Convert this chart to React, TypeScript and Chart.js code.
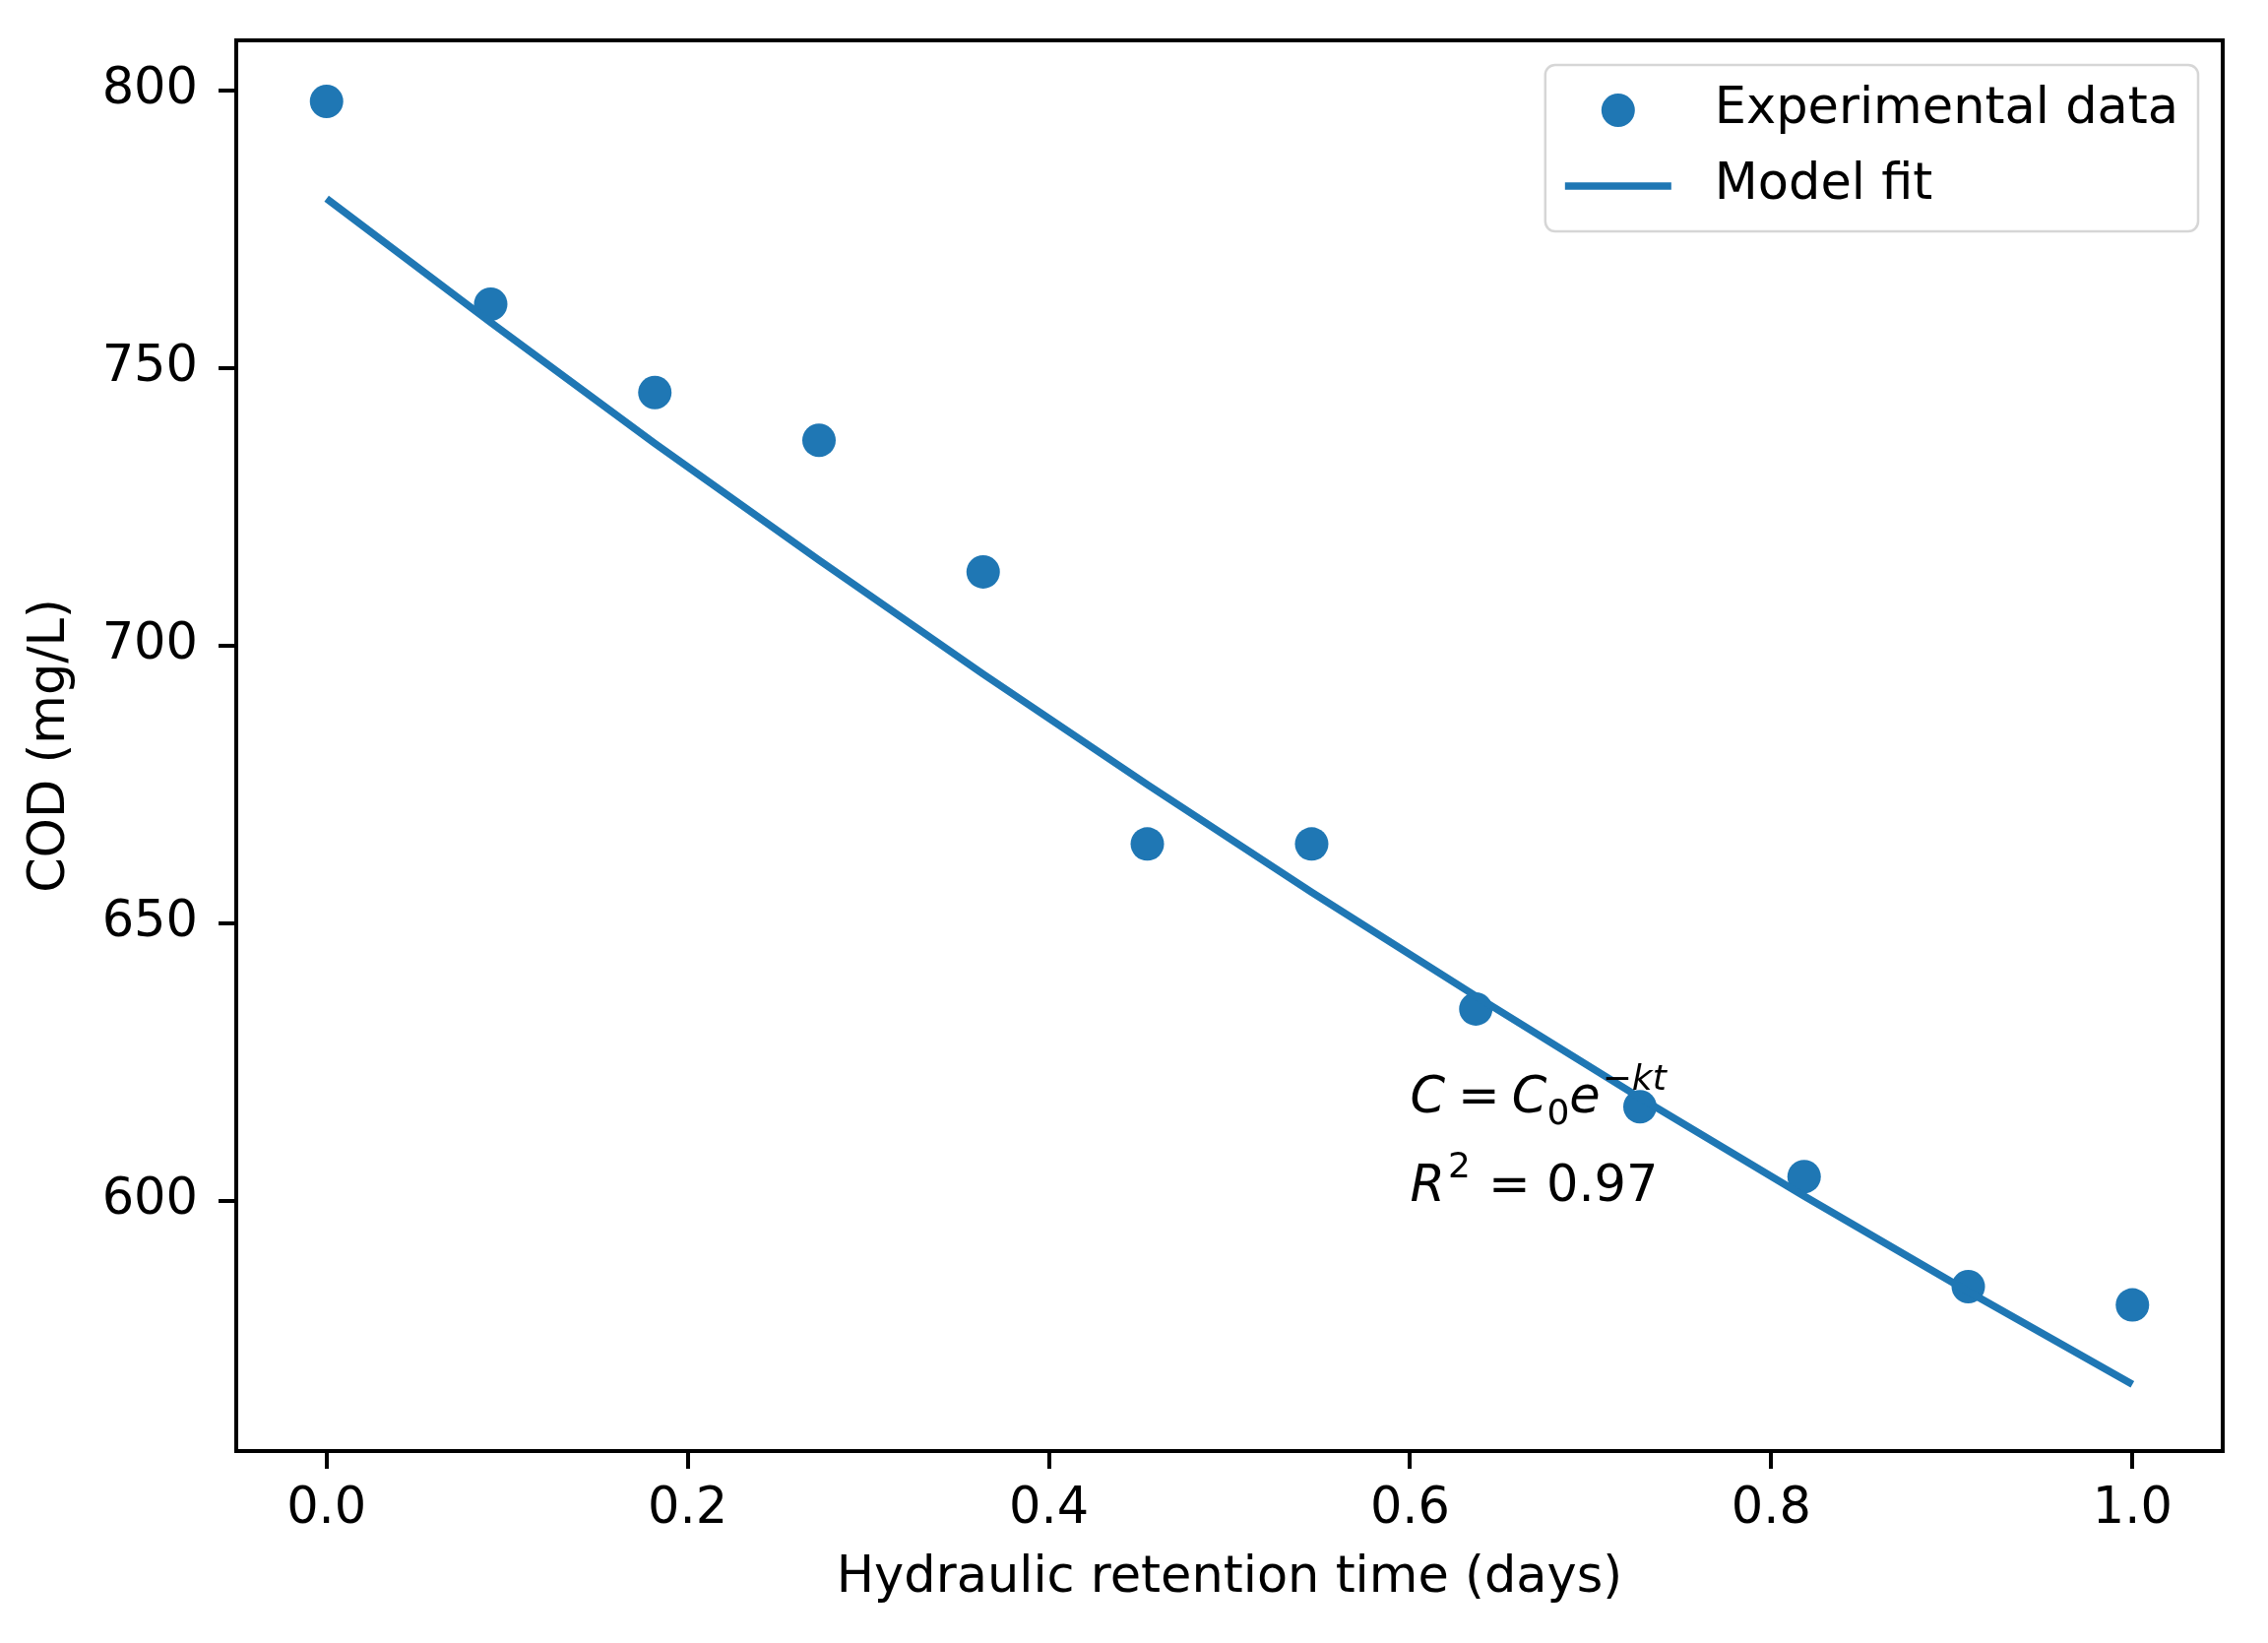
import React, { useEffect, useRef } from "react";
import { Chart, registerables } from "chart.js";

Chart.register(...registerables);

// ---- data ----
const hrtDays = [0, 0.0909, 0.1818, 0.2727, 0.3636, 0.4545, 0.5455, 0.6364, 0.7273, 0.8182, 0.9091, 1.0];
const codExperimental = [798, 761.5, 745.6, 737, 713.3, 664.3, 664.3, 634.6, 617, 604.4, 584.6, 581.3];
const codModel = [780.5, 758.2, 736.4, 715.4, 694.9, 675.0, 655.6, 636.9, 618.6, 600.9, 583.7, 567.0];
const xTicks = [0, 0.2, 0.4, 0.6, 0.8, 1.0];
const yTicks = [600, 650, 700, 750, 800];
const seriesLabels = ["Experimental data", "Model fit"];
const xTitle = "Hydraulic retention time (days)";
const yTitle = "COD (mg/L)";
const annotationAt = { x: 0.6, y: 600 };
const r2Text = " = 0.97";

const FAMILY = '"DejaVu Sans", "Liberation Sans", sans-serif';
const FS = 51;
const BLUE = "#1f77b4";

type Piece = { t: string; size?: number; italic?: boolean; dy?: number; gap?: number };

function drawPieces(ctx: CanvasRenderingContext2D, x: number, base: number, pieces: Piece[]) {
  let cx = x;
  for (const p of pieces) {
    const size = p.size ?? FS;
    ctx.font = `${p.italic ? "italic " : ""}${size}px ${FAMILY}`;
    cx += p.gap ?? 0;
    ctx.fillText(p.t, cx, base + (p.dy ?? 0));
    cx += ctx.measureText(p.t).width;
  }
}

const overlay = {
  id: "overlay",
  afterDatasetsDraw(chart: any) {
    const { ctx, chartArea: a, scales } = chart;
    ctx.save();
    // axes frame
    ctx.strokeStyle = "#000";
    ctx.lineWidth = 4;
    ctx.strokeRect(a.left, a.top, a.right - a.left, a.bottom - a.top);

    // annotation text
    ctx.fillStyle = "#000";
    ctx.textBaseline = "alphabetic";
    ctx.textAlign = "left";
    const ax = scales.x.getPixelForValue(annotationAt.x);
    const base2 = scales.y.getPixelForValue(annotationAt.y);
    const base1 = base2 - 90;
    const SS = Math.round(FS * 0.7);
    drawPieces(ctx, ax, base1, [
      { t: "C", italic: true },
      { t: "=", gap: 13 },
      { t: "C", italic: true, gap: 12 },
      { t: "0", size: SS, dy: 12 },
      { t: "e", italic: true },
      { t: "\u2212", size: SS, dy: -23, gap: 2 },
      { t: "kt", size: SS, italic: true, dy: -23 },
    ]);
    drawPieces(ctx, ax, base2, [
      { t: "R", italic: true },
      { t: "2", size: SS, dy: -24, gap: 3 },
      { t: r2Text, gap: 2 },
    ]);

    // legend
    ctx.font = `${FS}px ${FAMILY}`;
    const textW = Math.max(...seriesLabels.map((s) => ctx.measureText(s).width));
    const pad = 20, handle = 108, hpad = 44, rowH = 52, rowGap = 25;
    const w = pad + handle + hpad + textW + pad;
    const h = pad * 2 + rowH * 2 + rowGap;
    const right = a.right - 25;
    const top = a.top + 25;
    const left = right - w;
    const rad = 10;
    ctx.beginPath();
    ctx.moveTo(left + rad, top);
    ctx.lineTo(right - rad, top);
    ctx.arcTo(right, top, right, top + rad, rad);
    ctx.lineTo(right, top + h - rad);
    ctx.arcTo(right, top + h, right - rad, top + h, rad);
    ctx.lineTo(left + rad, top + h);
    ctx.arcTo(left, top + h, left, top + h - rad, rad);
    ctx.lineTo(left, top + rad);
    ctx.arcTo(left, top, left + rad, top, rad);
    ctx.closePath();
    ctx.fillStyle = "rgba(255,255,255,0.8)";
    ctx.fill();
    ctx.strokeStyle = "#d6d6d6";
    ctx.lineWidth = 2.5;
    ctx.stroke();

    const r1 = top + pad + rowH / 2;
    const r2 = r1 + rowH + rowGap;
    // marker
    ctx.fillStyle = BLUE;
    ctx.beginPath();
    ctx.arc(left + pad + handle / 2, r1, 17, 0, Math.PI * 2);
    ctx.fill();
    // line
    ctx.strokeStyle = BLUE;
    ctx.lineWidth = 7.5;
    ctx.beginPath();
    ctx.moveTo(left + pad, r2);
    ctx.lineTo(left + pad + handle, r2);
    ctx.stroke();
    // texts
    ctx.fillStyle = "#000";
    ctx.textBaseline = "middle";
    ctx.font = `${FS}px ${FAMILY}`;
    ctx.fillText(seriesLabels[0], left + pad + handle + hpad, r1);
    ctx.fillText(seriesLabels[1], left + pad + handle + hpad, r2);
    ctx.restore();
  },
};

export default function App() {
  const ref = useRef<HTMLCanvasElement | null>(null);

  useEffect(() => {
    document.body.style.margin = "0";
    const canvas = ref.current;
    if (!canvas) return;
    const font = { family: FAMILY, size: FS };
    const chart = new Chart(canvas, {
      type: "scatter",
      data: {
        datasets: [
          {
            type: "scatter",
            label: seriesLabels[0],
            data: hrtDays.map((x, i) => ({ x, y: codExperimental[i] })),
            backgroundColor: BLUE,
            borderWidth: 0,
            pointRadius: 17,
            pointHoverRadius: 17,
            order: 2,
          } as any,
          {
            type: "line",
            label: seriesLabels[1],
            data: hrtDays.map((x, i) => ({ x, y: codModel[i] })),
            borderColor: BLUE,
            borderWidth: 7.5,
            pointRadius: 0,
            fill: false,
            tension: 0,
            order: 1,
          } as any,
        ],
      },
      options: {
        responsive: false,
        animation: false,
        devicePixelRatio: 1,
        events: [],
        layout: { padding: { left: 0, top: 41, right: 46, bottom: 0 } },
        plugins: { legend: { display: false }, tooltip: { enabled: false } },
        scales: {
          x: {
            type: "linear",
            min: -0.05,
            max: 1.05,
            afterBuildTicks: (s: any) => {
              s.ticks = xTicks.map((v) => ({ value: v }));
            },
            afterFit: (s: any) => {
              s.height = 195;
              s.paddingLeft = 0;
              s.paddingRight = 0;
            },
            ticks: {
              callback: (v: any) => Number(v).toFixed(1),
              font,
              color: "#000",
              padding: 11,
              maxRotation: 0,
              autoSkip: false,
            },
            grid: { drawOnChartArea: false, drawTicks: true, tickLength: 18, tickWidth: 4, tickColor: "#000", lineWidth: 4 },
            border: { display: false },
            title: { display: true, text: xTitle, font, color: "#000", padding: { top: 0, bottom: 35 } },
          },
          y: {
            type: "linear",
            min: 555,
            max: 809,
            afterBuildTicks: (s: any) => {
              s.ticks = yTicks.map((v) => ({ value: v }));
            },
            afterFit: (s: any) => {
              s.width = 240;
              s.paddingTop = 0;
              s.paddingBottom = 0;
            },
            ticks: {
              callback: (v: any) => String(v),
              font,
              color: "#000",
              padding: 21,
              autoSkip: false,
            },
            grid: { drawOnChartArea: false, drawTicks: true, tickLength: 18, tickWidth: 4, tickColor: "#000", lineWidth: 4 },
            border: { display: false },
            title: { display: true, text: yTitle, font, color: "#000", padding: { top: 21, bottom: 0 } },
          },
        },
      } as any,
      plugins: [overlay],
    });
    return () => chart.destroy();
  }, []);

  return (
    <div style={{ width: 2304, height: 1669, background: "#fff" }}>
      <canvas ref={ref} width={2304} height={1669} style={{ display: "block" }} />
    </div>
  );
}
